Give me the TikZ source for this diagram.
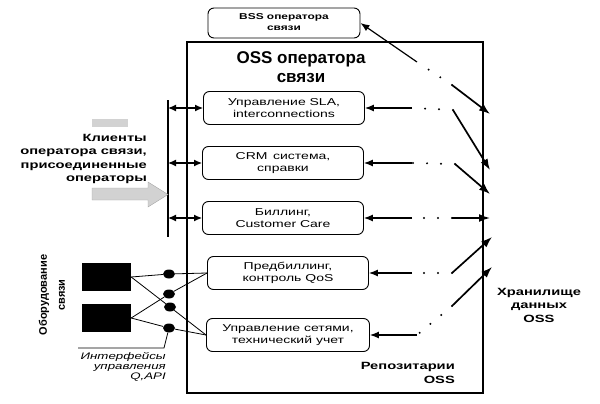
\documentclass[tikz,border=0pt]{standalone}
\usepackage{fontspec}
\usepackage{graphicx}
\setmainfont{Liberation Sans}
\newfontfamily\widesf[FakeStretch=1.4]{Liberation Sans}
\usetikzlibrary{arrows.meta}
\usetikzlibrary{shapes.geometric}
\newcommand{\widen}[3][c]{\scalebox{#2}[1]{\begin{tabular}{@{}#1@{}}#3\end{tabular}}}
\tikzstyle{block}=[draw, line width=0.9pt, rounded corners=6pt, minimum width=161pt, minimum height=33pt, inner sep=0pt, align=center, font=\widesf\fontsize{10}{12}\selectfont]
\tikzstyle{bigtxt}=[inner sep=0pt, font=\bfseries\fontsize{10.5}{13.5}\selectfont]
\tikzstyle{titletxt}=[inner sep=0pt, align=center, font=\bfseries\fontsize{17}{19}\selectfont]
\tikzstyle{link}=[line width=1.2pt, -{Latex[length=9pt,width=7pt]}]
\tikzstyle{duplex}=[line width=1.2pt, {Latex[length=8pt,width=7pt]}-{Latex[length=8pt,width=7pt]}]
\tikzstyle{feed}=[line width=1.7pt, -{Latex[length=11pt,width=8pt]}]
\tikzstyle{dots}=[line width=2.2pt, line cap=round, dash pattern=on 0pt off 14pt]
\tikzstyle{wire}=[line width=0.8pt]
\tikzstyle{port}=[ellipse, fill=black, minimum width=12pt, minimum height=9pt, inner sep=0pt]
\tikzstyle{unit}=[fill=black, minimum width=49pt, minimum height=28pt, inner sep=0pt]

\begin{document}
\begin{tikzpicture}[x=1pt,y=-1pt]
    \useasboundingbox (0,0) rectangle (600,404);
    % OSS frame
    \draw[line width=1.2pt] (187,42) rectangle (483,393);
    \node[titletxt] (oss) at (301,67) {OSS оператора\\связи};
    % blocks
    \node[block, minimum width=152pt, minimum height=30pt, font=\bfseries\fontsize{8.5}{10.5}\selectfont] (bss) at (284,23) {\widen{1.4}{BSS оператора\\связи}};
    \node[block] (sla) at (284,108) {Управление SLA,\\interconnections};
    \node[block] (crm) at (283,163) {CRM\, система,\\справки};
    \node[block] (bill) at (283,218) {Биллинг,\\Customer Care};
    \node[block] (qos) at (288,273) {Предбиллинг,\\контроль QoS};
    \node[block, minimum width=163pt] (net) at (288,335) {Управление сетями,\\технический учет};
    % clients
    \coordinate (bustop) at (168,100);
    \coordinate (busend) at (168,237);
    \draw[line width=1.2pt] (bustop) -- (busend);
    \draw[duplex] (sla.west -| bustop) -- (sla.west);
    \draw[duplex] (crm.west -| bustop) -- (crm.west);
    \draw[duplex] (bill.west -| bustop) -- (bill.west);
    \fill[gray!35] (92,119) rectangle (128,127);
    \filldraw[fill=gray!35, draw=gray!70, line width=0.4pt] (92,188) -- (148,188) -- (148,182) -- (168,194.5) -- (148,207) -- (148,200) -- (92,200) -- cycle;
    \node[bigtxt, anchor=east] (clients) at (147,159) {\widen[r]{1.4}{Клиенты\\оператора связи,\\присоединенные\\операторы}};
    % equipment
    \node[unit] (eq1) at (106.5,277) {};
    \node[unit] (eq2) at (106.5,318) {};
    \node[port] (p1) at (169,274) {};
    \node[port] (p2) at (169,294) {};
    \node[port] (p3) at (170,307) {};
    \node[port] (p4) at (169,328) {};
    \draw[wire] (eq1.east) -- (p1) -- (qos.west);
    \draw[wire] (eq1.east) -- (p3) -- (net.west);
    \draw[wire] (eq2.east) -- (p2) -- (qos.west);
    \draw[wire] (eq2.east) -- (p4) -- (net.west);
    \coordinate (qbend) at (164,348);
    \coordinate (qend) at (78,348);
    \draw[wire] (p4) -- (qbend) -- (qend);
    \node[inner sep=0pt, align=right, anchor=east, font=\widesf\itshape\fontsize{9.5}{10}\selectfont] (qapi) at (166,367) {Интерфейсы\\управления\\Q,API};
    \node[inner sep=0pt, align=center, rotate=90, font=\bfseries\fontsize{11}{18}\selectfont] (equip) at (52,295) {Оборудование\\связи};
    % storage
    \node[bigtxt] (store) at (539,306) {\widen{1.4}{Хранилище\\данных\\OSS}};
    \node[bigtxt, anchor=east] (repo) at (455,374) {\widen[r]{1.4}{Репозитарии\\OSS}};
    \coordinate (m0) at (417,62);  \coordinate (k0) at (452,85);  \coordinate (t0) at (490,114);
    \coordinate (m1) at (412,108); \coordinate (k1) at (453,110); \coordinate (t1) at (490,170);
    \coordinate (m2) at (412,163); \coordinate (k2) at (455,164); \coordinate (t2) at (490,194);
    \coordinate (m3) at (412,218); \coordinate (k3) at (452,218); \coordinate (t3) at (490,218);
    \coordinate (m4) at (412,273); \coordinate (k4) at (452,273); \coordinate (t4) at (492,237);
    \coordinate (m5) at (417,335); \coordinate (k5) at (452,306); \coordinate (t5) at (492,267);
    \draw[link] (m0) -- (bss.east);
    \draw[link] (m1) -- (sla.east);
    \draw[link] (m2) -- (crm.east);
    \draw[link] (m3) -- (bill.east);
    \draw[link] (m4) -- (qos.east);
    \draw[link] (m5) -- (net.east);
    \foreach \i in {0,...,5} {
        \draw[dots] (k\i) -- (m\i);
        \draw[feed] (k\i) -- (t\i);
    }
\end{tikzpicture}
\end{document}
